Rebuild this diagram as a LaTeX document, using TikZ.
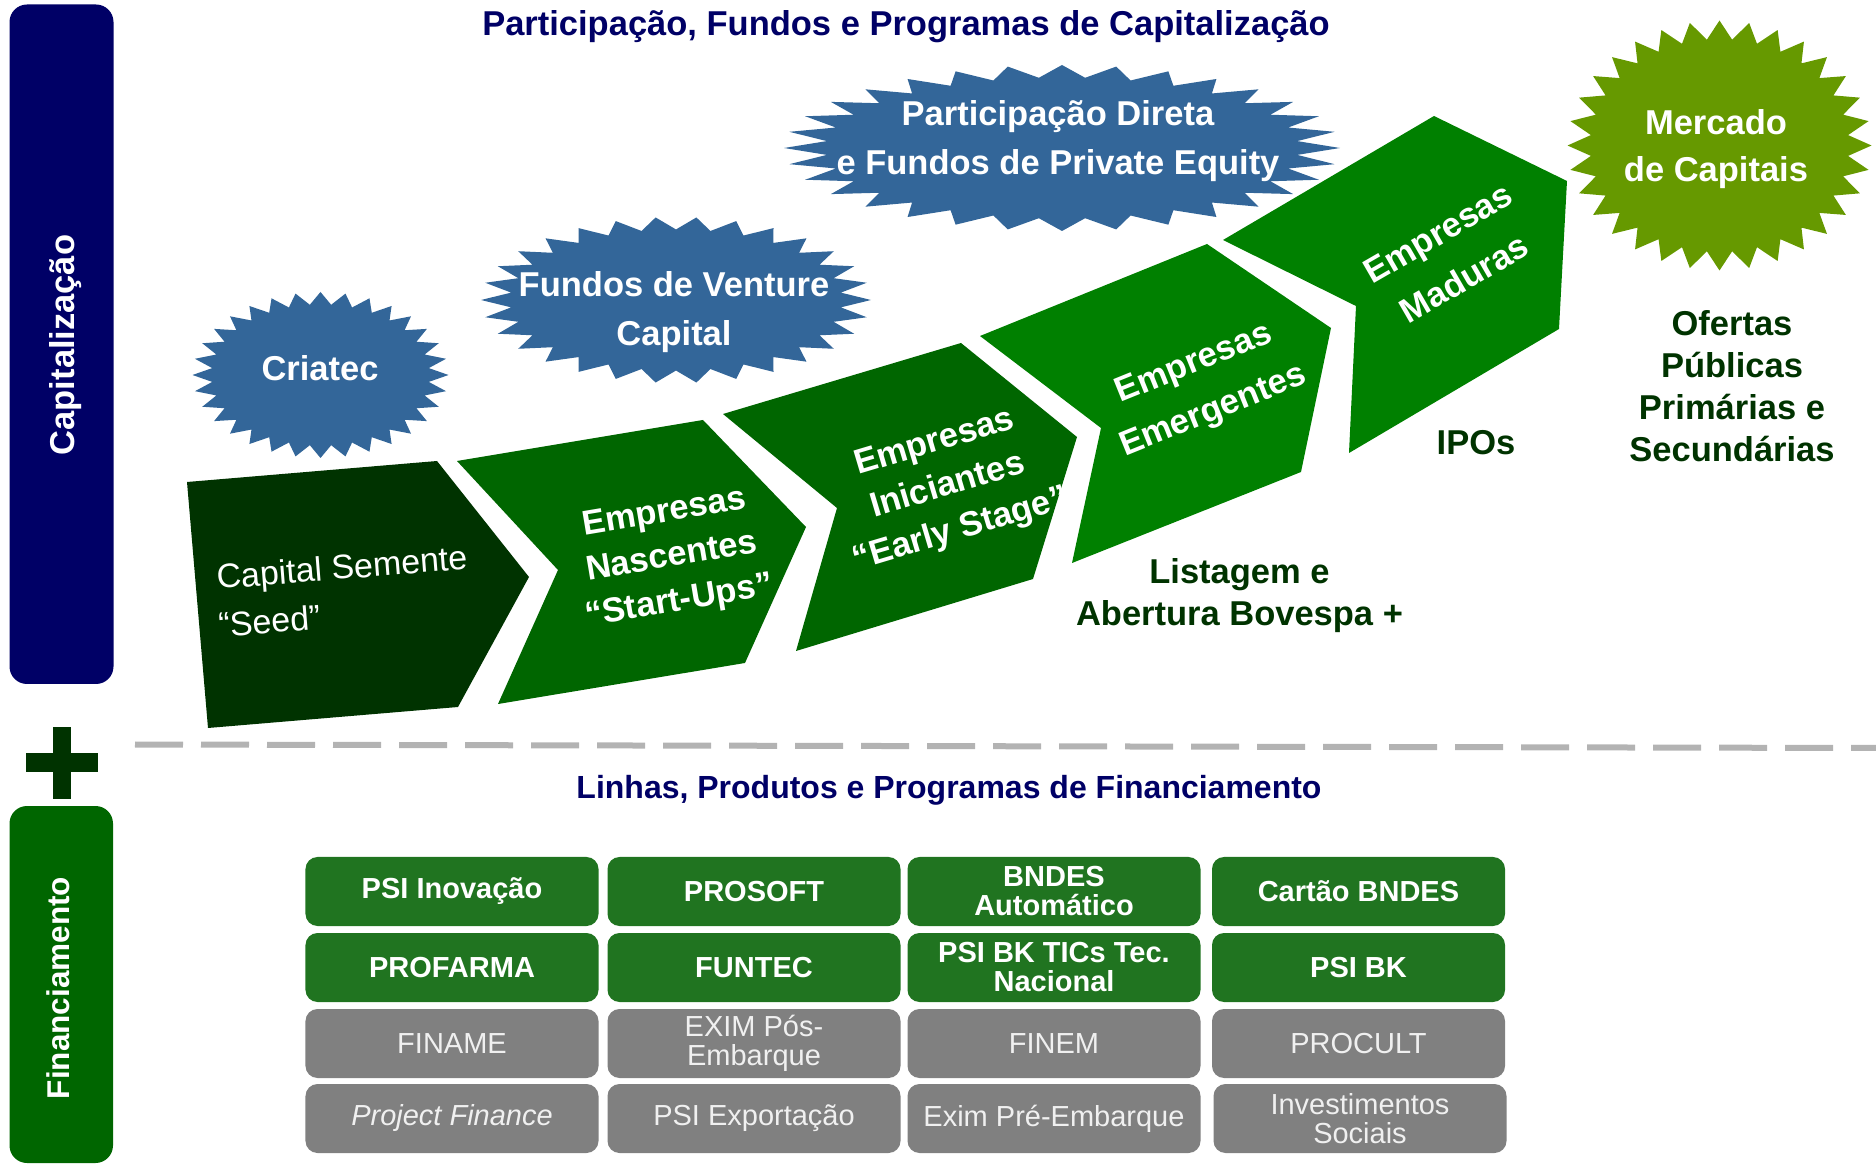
\documentclass[tikz,border=0pt]{standalone}
\usepackage{fontspec}
\setmainfont{Liberation Sans}
\definecolor{navy}{RGB}{0,0,102}
\definecolor{burstblue}{RGB}{51,102,153}
\definecolor{mercadogreen}{RGB}{102,153,0}
\definecolor{seedgreen}{RGB}{0,51,0}
\definecolor{midgreen}{RGB}{0,102,0}
\definecolor{brightgreen}{RGB}{0,128,0}
\definecolor{cellgreen}{RGB}{32,116,32}
\definecolor{cellgray}{RGB}{128,128,128}
\definecolor{dashgray}{RGB}{179,179,179}
% centre, x radius, y radius, spikes, colour
\newcommand{\starburst}[5]{%
  \fill[#5,shift={#1}] (0:#2 and #3)
    \foreach \k in {1,...,#4} {
      -- ({(2*\k-1)*180/#4}:{0.85*#2} and {0.85*#3})
      -- ({2*\k*180/#4}:#2 and #3)}
    -- cycle;}
\begin{document}
\begin{tikzpicture}[x=0.4pt,y=-0.4pt,
    title/.style={text=navy,font=\fontsize{13.8}{16}\selectfont\bfseries},
    bartext/.style={text=white,rotate=90,inner sep=0},
    stagetext/.style={text=white,align=center,inner sep=0,font=\fontsize{13.8}{18}\selectfont\bfseries},
    bursttext/.style={text=white,align=center,inner sep=0,font=\fontsize{13.8}{19.5}\selectfont\bfseries},
    darklabel/.style={text=seedgreen,align=center,inner sep=0,font=\fontsize{13.8}{16.8}\selectfont\bfseries},
    greencell/.style={fill=cellgreen,rounded corners=4.8pt,minimum width=117.2pt,minimum height=27.6pt,
      inner sep=0,text=white,align=center,font=\fontsize{11.6}{11.6}\selectfont\bfseries},
    graycell/.style={greencell,fill=cellgray,text=white!94!black,font=\fontsize{11.6}{11.6}\selectfont}]
  \useasboundingbox (0,0) rectangle (1876,1165);

  % side bars
  \fill[navy,rounded corners=7pt] (9.5,4.5) rectangle (113.5,684);
  \node[bartext,font=\fontsize{13.8}{16}\selectfont\bfseries] (capbar) at (66,345) {Capitalização};
  \fill[midgreen,rounded corners=7pt] (9.5,806) rectangle (113,1163);
  \node[bartext,font=\fontsize{12.6}{15}\selectfont\bfseries] (finbar) at (58,988) {Financiamento};
  \fill[seedgreen] (52.7,726.7) rectangle (71,799.3);
  \fill[seedgreen] (26,753.3) rectangle (98.3,772.3);
  \draw[dashgray,line width=2.4pt,dash pattern=on 19.2pt off 7.2pt] (135,744.5) -- (1876,748);

  % titles
  \node[title,anchor=base] (captitle) at (906,36) {Participação, Fundos e Programas de Capitalização};
  \node[title,anchor=base,font=\fontsize{12.8}{15}\selectfont\bfseries] (fintitle) at (949,799)
    {Linhas, Produtos e Programas de Financiamento};

  % stages
  \fill[seedgreen] (187,482) -- (437,461) -- (529,577) -- (458,707) -- (208,728) -- cycle;
  \fill[midgreen] (457,461) -- (703,420) -- (806,527) -- (745,663) -- (498,704) -- (558,570) -- cycle;
  \fill[midgreen] (723,414) -- (961,343) -- (1077,437) -- (1033,579) -- (796,651) -- (837,508) -- cycle;
  \fill[brightgreen] (980,336) -- (1207,244) -- (1331,328) -- (1301,472) -- (1072,563) -- (1101,428) -- cycle;
  \fill[brightgreen] (1223,240) -- (1434,116) -- (1567,181) -- (1559,329) -- (1349,453) -- (1356,306) -- cycle;

  \node[text=white,anchor=base west,rotate=4.5,inner sep=0,font=\fontsize{13.6}{16}\selectfont] (seed1) at (217,589) {Capital Semente};
  \node[text=white,anchor=base west,rotate=4.5,inner sep=0,font=\fontsize{13.6}{16}\selectfont] (seed2) at (219,637) {“Seed”};
  \node[stagetext,rotate=9.5,font=\fontsize{13.8}{18}\selectfont\bfseries] (nascentes) at (672,558) {Empresas\\Nascentes\\“Start-Ups”};
  \node[stagetext,rotate=16.6,font=\fontsize{13.8}{18.2}\selectfont\bfseries] (iniciantes) at (948,487) {Empresas\\Iniciantes\\“Early Stage”};
  \node[stagetext,rotate=22,font=\fontsize{13.8}{20.6}\selectfont\bfseries] (emergentes) at (1204,388) {Empresas\\Emergentes};
  \node[stagetext,rotate=30,font=\fontsize{13.8}{21}\selectfont\bfseries] (maduras) at (1451,256) {Empresas\\Maduras};

  % bursts
  \starburst{(320.5,375)}{128}{83}{32}{burstblue}
  \starburst{(676,300)}{195}{83}{30}{burstblue}
  \starburst{(1062,148)}{278}{83}{32}{burstblue}
  \starburst{(1719.5,145.5)}{152}{125}{32}{mercadogreen}
  \node[bursttext] (criatec) at (320,368) {Criatec};
  \node[bursttext] (venture) at (674,312) {Fundos de Venture\\Capital};
  \node[bursttext] (direta) at (1058,141) {Participação Direta\\e Fundos de Private Equity};
  \node[bursttext,font=\fontsize{13.8}{19.1}\selectfont\bfseries] (mercado) at (1716,149) {Mercado\\de Capitais};

  % exits
  \node[darklabel] (listagem) at (1239.5,596) {Listagem e\\Abertura Bovespa +};
  \node[darklabel] (ipos) at (1476,443) {IPOs};
  \node[darklabel] (ofertas) at (1732,386) {Ofertas\\Públicas\\Primárias e\\Secundárias};

  % financing table
  \node[greencell] (psiinov) at (452,891.5) {PSI Inovação};
  \node[greencell] (prosoft) at (754,891.5) {PROSOFT};
  \node[greencell] (automatico) at (1054,891.5) {BNDES\\Automático};
  \node[greencell] (cartao) at (1358.5,891.5) {Cartão BNDES};
  \node[greencell] (profarma) at (452,967.5) {PROFARMA};
  \node[greencell] (funtec) at (754,967.5) {FUNTEC};
  \node[greencell] (tics) at (1054,967.5) {PSI BK TICs Tec.\\Nacional};
  \node[greencell] (psibk) at (1358.5,967.5) {PSI BK};
  \node[graycell] (finame) at (452,1043.5) {FINAME};
  \node[graycell] (eximpos) at (754,1043.5) {EXIM Pós-\\Embarque};
  \node[graycell] (finem) at (1054,1043.5) {FINEM};
  \node[graycell] (procult) at (1358.5,1043.5) {PROCULT};
  \node[graycell] (project) at (452,1118.5) {\itshape Project Finance};
  \node[graycell] (exportacao) at (754,1118.5) {PSI Exportação};
  \node[graycell] (eximpre) at (1054,1118.5) {Exim Pré-Embarque};
  \node[graycell] (sociais) at (1360,1118.5) {Investimentos\\Sociais};
\end{tikzpicture}
\end{document}
